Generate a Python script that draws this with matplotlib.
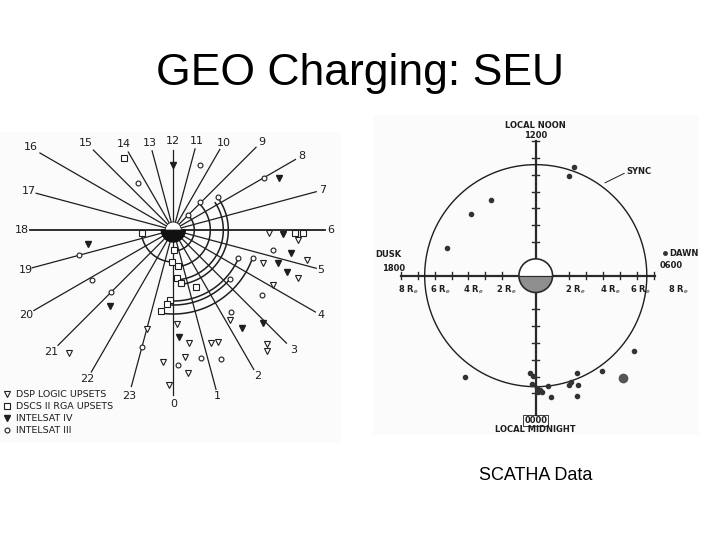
import numpy as np
import matplotlib.pyplot as plt
from matplotlib.patches import Wedge, Circle

plt.rcParams['font.family'] = ['DejaVu Sans']

# ---- left figure: upsets by local time (positions in px from centre) ----
hours = list(range(24))
line_len = [165, 165, 161, 160, 164, 148, 152, 148, 141, 117, 93, 84,
            80, 82, 90, 113, 154, 142, 143, 146, 161, 163, 164, 162]
label_r = [174, 172, 169, 170, 170, 153, 157, 155, 148, 125, 101, 92,
           89, 90, 99, 123, 165, 150, 151, 153, 170, 172, 172, 172]

# satellite tracks (radius, start angle, end angle in degrees)
arc_r = [32, 21, 37, 50, 55, 71, 75, 84]
arc_from = [186, 45, 46, 33, 37, -23, -41, -19]
arc_to = [267, -87, -82, -86, -82, -93, -96, -99]

dsp_x = [96.0, 125.0, 134.0, 90.0, 125.0, 99.3, 3.3, -26.7, 56.7, 37.3, 45.0,
         15.7, 11.7, -10.0, 15.0, 93.3, 93.3, -104.0, -4.0]
dsp_y = [-3.3, -10.0, -30.0, -33.3, -47.7, -55.0, -94.0, -99.3, -90.0, -113.3,
         -111.7, -113.3, -127.3, -131.7, -143.3, -114.3, -120.7, -123.3, -155.0]
dscs_x = [-49.3, -31.7, 1.0, -1.7, 5.0, 3.3, 7.7, 22.7, -3.3, -6.0, -12.7, 121.3, 129.3]
dscs_y = [71.7, -3.3, -20.0, -31.7, -36.0, -48.3, -52.7, -56.7, -70.0, -74.0, -81.0, -2.7, -2.7]
i4_x = [-0.3, 106.0, -85.0, 109.3, 117.7, 105.0, 113.3, -63.3, 6.0, 69.0, 90.0]
i4_y = [65.0, 52.3, -14.0, -4.3, -22.7, -32.7, -41.7, -76.0, -106.7, -97.7, -93.3]
i3_x = [26.7, -35.0, 91.0, 26.7, 45.0, 15.0, -94.0, -81.7, -62.3, 99.3, 65.0,
        80.0, 56.7, 88.3, 57.7, -31.7, 5.0, 27.7, 47.3]
i3_y = [65.0, 47.3, 51.7, 28.3, 33.3, 15.0, -25.0, -50.0, -62.3, -20.0, -28.3,
        -27.7, -49.3, -65.0, -81.7, -117.3, -135.0, -128.3, -129.3]

# ---- right figure: SCATHA anomalies (Earth radii) ----
sc_x = [2.28, 1.98, -2.67, -3.84, -5.29, 5.84, 3.92, 2.43, 2.08, 2.0, 2.53, 2.43,
        0.75, 0.91, -4.2, -0.34, -0.14, -0.24, 0.06, 0.26, 0.36, 0.16]
sc_y = [6.48, 5.94, 4.50, 3.66, 1.66, -4.46, -5.66, -5.80, -6.30, -6.49, -6.49, -7.15,
        -6.55, -7.19, -6.0, -5.80, -5.96, -6.45, -6.69, -6.79, -6.89, -6.89]
blob_x, blob_y = [5.21], [-6.06]
sync_r = 6.6
left_re = [8, 6, 4, 2]
right_re = [2, 4, 6, 8]

ink = '#1e1e1e'
fig = plt.figure(figsize=(7.2, 5.4), dpi=100)
fig.patch.set_facecolor('white')

fig.text(0.5, 1 - 85 / 540, 'GEO Charging: SEU', ha='center', va='baseline',
         fontsize=32, family='Liberation Sans')
fig.text(536 / 720, 1 - 480 / 540, 'SCATHA Data', ha='center', va='baseline',
         fontsize=13, family='Liberation Sans')

# left panel
ax = fig.add_axes([0, 97 / 540, 341 / 720, 311 / 540])
ax.set_xlim(-173.3, 167.7)
ax.set_ylim(-213, 98)
ax.axis('off')
ax.add_patch(plt.Rectangle((0, 0), 1, 1, transform=ax.transAxes, fc='#fbfbfb', ec='none', zorder=0))

for h, L, rl in zip(hours, line_len, label_r):
    th = np.radians((h - 6) * 15)
    lw = 1.3 if h in (6, 18) else 0.9
    ax.plot([3 * np.cos(th), L * np.cos(th)], [3 * np.sin(th), L * np.sin(th)],
            color=ink, lw=lw, zorder=2)
    ax.text(rl * np.cos(th), rl * np.sin(th), str(h), ha='center', va='center',
            fontsize=8, color=ink)

for r, a0, a1 in zip(arc_r, arc_from, arc_to):
    t = np.radians(np.linspace(a0, a1, 100))
    ax.plot(r * np.cos(t), r * np.sin(t), color=ink, lw=1.1, zorder=3)

ax.add_patch(Wedge((0, 0), 12, 180, 360, fc='#111111', ec='#111111', zorder=4))
ax.add_patch(Wedge((0, 0), 8, 0, 180, fc='white', ec=ink, lw=0.6, zorder=4))

ax.plot(dsp_x, dsp_y, 'v', ms=5, mfc='white', mec=ink, mew=0.8, ls='none', zorder=5,
        label='DSP LOGIC UPSETS')
ax.plot(dscs_x, dscs_y, 's', ms=4, mfc='white', mec=ink, mew=0.8, ls='none', zorder=5,
        label='DSCS II RGA UPSETS')
ax.plot(i4_x, i4_y, 'v', ms=5, mfc=ink, mec=ink, ls='none', zorder=5,
        label='INTELSAT IV')
ax.plot(i3_x, i3_y, 'o', ms=3.5, mfc='white', mec=ink, mew=0.8, ls='none', zorder=5,
        label='INTELSAT III')
ax.legend(loc='lower left', bbox_to_anchor=(-0.01, 0.005), frameon=False,
          fontsize=6.8, labelspacing=0.3, handlelength=0.8, handletextpad=0.6,
          borderpad=0.2, labelcolor=ink)

# right panel
ax2 = fig.add_axes([373 / 720, 105 / 540, 326 / 720, 320 / 540])
ax2.set_xlim(-9.67, 9.70)
ax2.set_ylim(-9.47, 9.55)
ax2.axis('off')
ax2.add_patch(plt.Rectangle((0, 0), 1, 1, transform=ax2.transAxes, fc='#fbfbfb', ec='none', zorder=0))

axc = '#2a2a2a'
ax2.plot([-8, -1], [0, 0], color=axc, lw=1.6)
ax2.plot([1, 7.1], [0, 0], color=axc, lw=1.6)
ax2.plot([0, 0], [1, 8.0], color=axc, lw=1.6)
ax2.plot([0, 0], [-1, -8.3], color=axc, lw=1.6)
tk = 0.22
for v in range(2, 9):
    ax2.plot([-v, -v], [-tk, tk], color=axc, lw=1.0)
    ax2.plot([-tk, tk], [v, v], color=axc, lw=1.0)
for v in range(2, 8):
    ax2.plot([v, v], [-tk, tk], color=axc, lw=1.0)
    ax2.plot([-tk, tk], [-v, -v], color=axc, lw=1.0)

t = np.linspace(0, 2 * np.pi, 400)
ax2.plot(sync_r * np.cos(t), sync_r * np.sin(t), color=ink, lw=1.0)
ax2.add_patch(Wedge((0, 0), 1, 180, 360, fc='#8f8f8f', ec='none', zorder=4))
ax2.add_patch(Wedge((0, 0), 1, 0, 180, fc='white', ec='none', zorder=4))
ax2.add_patch(Circle((0, 0), 1, fc='none', ec=axc, lw=1.2, zorder=5))
ax2.plot([-1, 1], [0, 0], color=axc, lw=0.8, zorder=5)

ax2.plot(sc_x, sc_y, 'o', ms=3, color='#333333', zorder=6)
ax2.plot(blob_x, blob_y, 'o', ms=6, color='#555555', zorder=6)

lab = dict(fontsize=6, fontweight='bold', color=ink, ha='center', va='center')
for v, xl in zip(left_re, [-7.56, -5.68, -3.7, -1.72]):
    ax2.text(xl, -0.85, f'{v} R$_e$', **lab)
for v, xl in zip(right_re, [2.34, 4.42, 6.2, 8.47]):
    ax2.text(xl, -0.85, f'{v} R$_e$', **lab)
ax2.text(0, 8.95, 'LOCAL NOON', **lab)
ax2.text(0, 8.35, '1200', **lab)
ax2.text(0, -8.62, '0000', bbox=dict(boxstyle='square,pad=0.1', fc='none', ec=ink, lw=0.6), **lab)
ax2.text(0, -9.15, 'LOCAL MIDNIGHT', **lab)
ax2.text(-8.75, 1.23, 'DUSK', **lab)
ax2.text(-8.46, 0.4, '1800', **lab)
ax2.plot([7.68], [1.33], 'o', ms=2.5, color='#333333')
ax2.text(7.95, 1.33, 'DAWN', **{**lab, 'ha': 'left'})
ax2.text(8.04, 0.6, '0600', **lab)
ax2.text(6.15, 6.18, 'SYNC', **lab)
ax2.plot([4.12, 5.25], [5.52, 6.08], color=ink, lw=0.7)

fig.savefig('out.png', dpi=100)
